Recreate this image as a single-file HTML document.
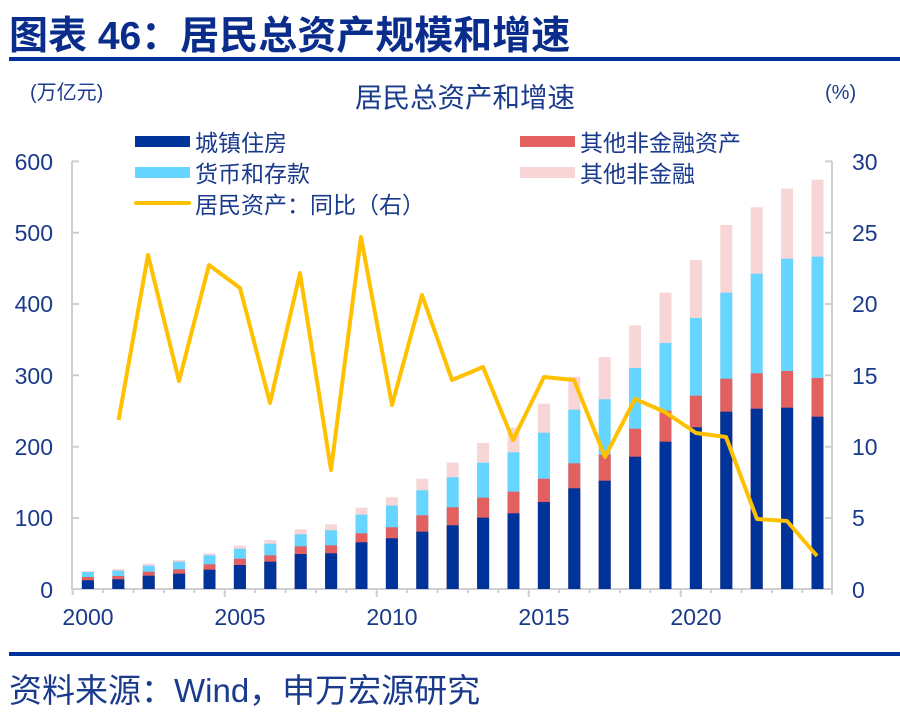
<!DOCTYPE html>
<html><head><meta charset="utf-8"><style>
body{margin:0;background:#fff;}
svg{display:block;font-family:"Liberation Sans","Noto Sans CJK SC",sans-serif;}
</style></head><body>
<svg width="900" height="716" viewBox="0 0 900 716" xmlns="http://www.w3.org/2000/svg">
<text x="9" y="49" font-size="39" font-weight="bold" fill="#0a2d8c">图表 46：居民总资产规模和增速</text>
<rect x="9" y="57" width="891" height="4" fill="#003399"/>
<text x="30" y="99" font-size="20" fill="#1a3a8c">(万亿元)</text>
<text x="465" y="107" font-size="27.5" fill="#1a3a8c" text-anchor="middle">居民总资产和增速</text>
<text x="825" y="99" font-size="20" fill="#1a3a8c">(%)</text>
<rect x="135" y="136" width="55" height="11" fill="#003399"/>
<text x="195" y="151" font-size="23" fill="#1a3a8c">城镇住房</text>
<rect x="135" y="167" width="55" height="11" fill="#66d5ff"/>
<text x="195" y="182" font-size="23" fill="#1a3a8c">货币和存款</text>
<rect x="134" y="201" width="57" height="4" rx="2" fill="#ffc000"/>
<text x="195" y="213" font-size="23" fill="#1a3a8c">居民资产：同比（右）</text>
<rect x="520" y="136" width="55" height="11" fill="#e36060"/>
<text x="580" y="151" font-size="23" fill="#1a3a8c">其他非金融资产</text>
<rect x="520" y="167" width="55" height="11" fill="#f8d5d7"/>
<text x="580" y="182" font-size="23" fill="#1a3a8c">其他非金融</text>
<g stroke="#d0d0d0" stroke-width="2" fill="none">
<line x1="72" y1="161" x2="72" y2="590"/>
<line x1="832" y1="161" x2="832" y2="590"/>
<line x1="72" y1="589" x2="832" y2="589"/>
<path d="M72 161.4h7M72 232.7h7M72 304h7M72 375.3h7M72 446.7h7M72 518h7"/>
<path d="M832 161.4h-7M832 232.7h-7M832 304h-7M832 375.3h-7M832 446.7h-7M832 518h-7"/>
<path d="M72.7 589v6M224.7 589v8M376.7 589v8M528.7 589v8M680.7 589v8M832 589v6"/>
<path d="M103 589v4M133.5 589v4M164 589v4M194.3 589v4M255 589v4M285.5 589v4M316 589v4M346.3 589v4M407 589v4M437.5 589v4M468 589v4M498.3 589v4M559 589v4M589.5 589v4M620 589v4M650.3 589v4M711 589v4M741.5 589v4M772 589v4M802.3 589v4"/>
</g>
<g font-size="23" fill="#1a3a8c">
<g text-anchor="end">
<text x="53" y="170">600</text><text x="53" y="241">500</text><text x="53" y="312">400</text><text x="53" y="384">300</text><text x="53" y="455">200</text><text x="53" y="526">100</text><text x="53" y="598">0</text>
</g>
<text x="852" y="170">30</text><text x="852" y="241">25</text><text x="852" y="312">20</text><text x="852" y="384">15</text><text x="852" y="455">10</text><text x="852" y="526">5</text><text x="852" y="598">0</text>
<g text-anchor="middle">
<text x="88" y="625">2000</text><text x="240" y="625">2005</text><text x="392" y="625">2010</text><text x="544" y="625">2015</text><text x="696" y="625">2020</text>
</g>
</g>
<g fill="#f8d5d7">
<rect x="81.9" y="571" width="12" height="18"/><rect x="112.3" y="569" width="12" height="20"/><rect x="142.7" y="563.7" width="12" height="25.3"/><rect x="173.1" y="560" width="12" height="29"/><rect x="203.5" y="553.3" width="12" height="35.7"/><rect x="233.9" y="545.7" width="12" height="43.3"/><rect x="264.3" y="540" width="12" height="49"/><rect x="294.7" y="529.3" width="12" height="59.7"/><rect x="325.1" y="524.3" width="12" height="64.7"/><rect x="355.5" y="507.7" width="12" height="81.3"/><rect x="385.9" y="497.3" width="12" height="91.7"/><rect x="416.3" y="478.7" width="12" height="110.3"/><rect x="446.7" y="462.7" width="12" height="126.3"/><rect x="477.1" y="443" width="12" height="146"/><rect x="507.5" y="427.7" width="12" height="161.3"/><rect x="537.9" y="403.7" width="12" height="185.3"/><rect x="568.3" y="376.7" width="12" height="212.3"/><rect x="598.7" y="357" width="12" height="232"/><rect x="629.1" y="325.3" width="12" height="263.7"/><rect x="659.5" y="292.7" width="12" height="296.3"/><rect x="689.9" y="260" width="12" height="329"/><rect x="720.3" y="225" width="12" height="364"/><rect x="750.7" y="207.3" width="12" height="381.7"/><rect x="781.1" y="188.7" width="12" height="400.3"/><rect x="811.5" y="179.7" width="12" height="409.3"/>
</g>
<g fill="#66d5ff">
<rect x="81.9" y="572" width="12" height="17"/><rect x="112.3" y="570.7" width="12" height="18.3"/><rect x="142.7" y="565.7" width="12" height="23.3"/><rect x="173.1" y="561.7" width="12" height="27.3"/><rect x="203.5" y="555.3" width="12" height="33.7"/><rect x="233.9" y="548.7" width="12" height="40.3"/><rect x="264.3" y="543.7" width="12" height="45.3"/><rect x="294.7" y="534.3" width="12" height="54.7"/><rect x="325.1" y="530.3" width="12" height="58.7"/><rect x="355.5" y="514.7" width="12" height="74.3"/><rect x="385.9" y="505.7" width="12" height="83.3"/><rect x="416.3" y="490.3" width="12" height="98.7"/><rect x="446.7" y="477.3" width="12" height="111.7"/><rect x="477.1" y="462.7" width="12" height="126.3"/><rect x="507.5" y="452.3" width="12" height="136.7"/><rect x="537.9" y="432.7" width="12" height="156.3"/><rect x="568.3" y="409.7" width="12" height="179.3"/><rect x="598.7" y="399.3" width="12" height="189.7"/><rect x="629.1" y="368" width="12" height="221"/><rect x="659.5" y="343" width="12" height="246"/><rect x="689.9" y="318" width="12" height="271"/><rect x="720.3" y="292.7" width="12" height="296.3"/><rect x="750.7" y="273.7" width="12" height="315.3"/><rect x="781.1" y="258.7" width="12" height="330.3"/><rect x="811.5" y="256.7" width="12" height="332.3"/>
</g>
<g fill="#e36060">
<rect x="81.9" y="577" width="12" height="12"/><rect x="112.3" y="576" width="12" height="13"/><rect x="142.7" y="571.7" width="12" height="17.3"/><rect x="173.1" y="569.3" width="12" height="19.7"/><rect x="203.5" y="564.3" width="12" height="24.7"/><rect x="233.9" y="558.7" width="12" height="30.3"/><rect x="264.3" y="555.3" width="12" height="33.7"/><rect x="294.7" y="546.3" width="12" height="42.7"/><rect x="325.1" y="545.3" width="12" height="43.7"/><rect x="355.5" y="533.3" width="12" height="55.7"/><rect x="385.9" y="527.3" width="12" height="61.7"/><rect x="416.3" y="515.3" width="12" height="73.7"/><rect x="446.7" y="507.3" width="12" height="81.7"/><rect x="477.1" y="497.7" width="12" height="91.3"/><rect x="507.5" y="491.7" width="12" height="97.3"/><rect x="537.9" y="478.7" width="12" height="110.3"/><rect x="568.3" y="463.3" width="12" height="125.7"/><rect x="598.7" y="454.7" width="12" height="134.3"/><rect x="629.1" y="428.7" width="12" height="160.3"/><rect x="659.5" y="410.7" width="12" height="178.3"/><rect x="689.9" y="395.7" width="12" height="193.3"/><rect x="720.3" y="378.7" width="12" height="210.3"/><rect x="750.7" y="373.3" width="12" height="215.7"/><rect x="781.1" y="371" width="12" height="218"/><rect x="811.5" y="378" width="12" height="211"/>
</g>
<g fill="#003399">
<rect x="81.9" y="580.3" width="12" height="8.7"/><rect x="112.3" y="579.3" width="12" height="9.7"/><rect x="142.7" y="575.7" width="12" height="13.3"/><rect x="173.1" y="573.7" width="12" height="15.3"/><rect x="203.5" y="569.7" width="12" height="19.3"/><rect x="233.9" y="565" width="12" height="24"/><rect x="264.3" y="561.7" width="12" height="27.3"/><rect x="294.7" y="554" width="12" height="35"/><rect x="325.1" y="553.3" width="12" height="35.7"/><rect x="355.5" y="542.3" width="12" height="46.7"/><rect x="385.9" y="538.3" width="12" height="50.7"/><rect x="416.3" y="531.7" width="12" height="57.3"/><rect x="446.7" y="525.3" width="12" height="63.7"/><rect x="477.1" y="517.7" width="12" height="71.3"/><rect x="507.5" y="513.3" width="12" height="75.7"/><rect x="537.9" y="502" width="12" height="87"/><rect x="568.3" y="488.3" width="12" height="100.7"/><rect x="598.7" y="480.7" width="12" height="108.3"/><rect x="629.1" y="456.7" width="12" height="132.3"/><rect x="659.5" y="441.7" width="12" height="147.3"/><rect x="689.9" y="427.3" width="12" height="161.7"/><rect x="720.3" y="411.7" width="12" height="177.3"/><rect x="750.7" y="408.7" width="12" height="180.3"/><rect x="781.1" y="407.7" width="12" height="181.3"/><rect x="811.5" y="416.7" width="12" height="172.3"/>
</g>
<polyline fill="none" stroke="#ffc000" stroke-width="4" stroke-linejoin="round" points="118.6,420 148,255 179,381 209,265 240,288 270,403 300,273 331,470 361,237 392,405 422,295 452,380 483,367 513,440 544,377 574,380 605,457 635,399 665,412 696,433 726,437 757,519 787,521 817,556"/>
<rect x="9" y="652" width="891" height="4" fill="#003399"/>
<text x="9" y="702" font-size="33" fill="#1a3a8c">资料来源：Wind，申万宏源研究</text>
</svg>
</body></html>
